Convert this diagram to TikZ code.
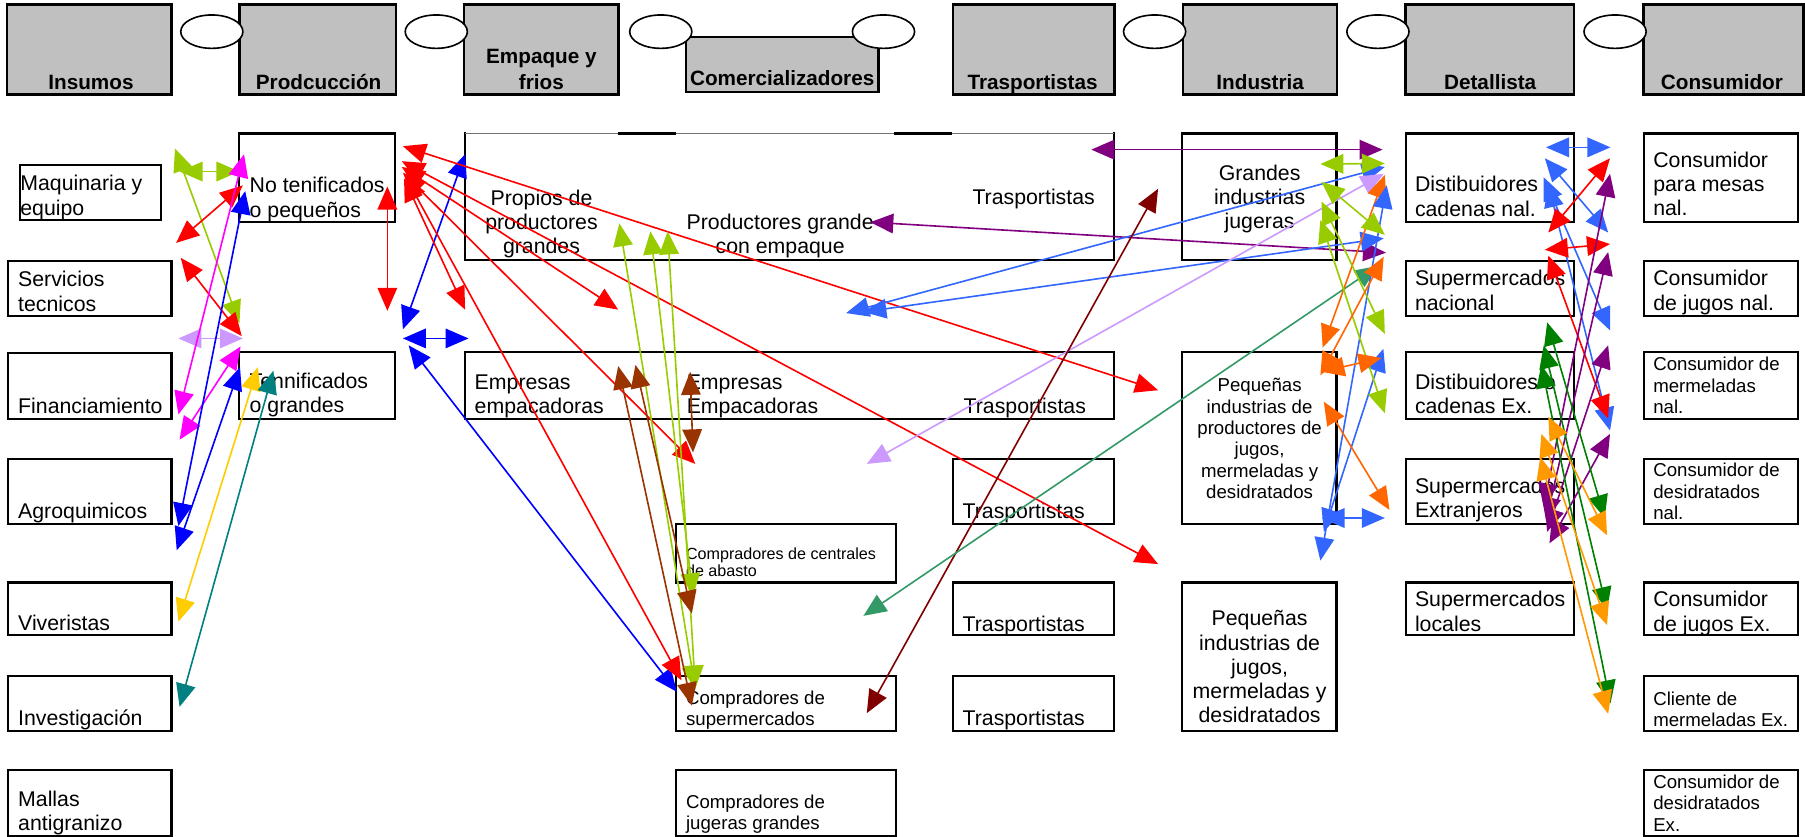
\documentclass[tikz,border=0pt]{standalone}
\usepackage{fontspec}
\setmainfont{Liberation Sans}
\usetikzlibrary{arrows.meta,fit,shapes.geometric}
\definecolor{hdr}{HTML}{C0C0C0}
\definecolor{cLime}{HTML}{99CC00}
\definecolor{cRed}{HTML}{FF0000}
\definecolor{cMag}{HTML}{FF00FF}
\definecolor{cBlue}{HTML}{0000FF}
\definecolor{cGold}{HTML}{FFCC00}
\definecolor{cTeal}{HTML}{008080}
\definecolor{cLav}{HTML}{CC99FF}
\definecolor{cBrown}{HTML}{993300}
\definecolor{cPurp}{HTML}{800080}
\definecolor{cBB}{HTML}{3366FF}
\definecolor{cDRed}{HTML}{800000}
\definecolor{cSea}{HTML}{339966}
\definecolor{cOra}{HTML}{FF6600}
\definecolor{cGreen}{HTML}{008000}
\definecolor{cLOra}{HTML}{FF9900}
\tikzset{
  hbox/.style={draw=black, line width=2.2pt, fill=hdr, inner sep=0pt},
  bbox/.style={draw=black, line width=1.8pt, inner sep=0pt},
  ell/.style={draw=black, line width=1.4pt, fill=white, ellipse, inner sep=0pt, minimum width=54pt, minimum height=29pt},
  htxt/.style={font=\fontsize{18}{22}\bfseries\selectfont, anchor=base, inner sep=0pt},
  bt/.style={font=\fontsize{18.5}{21}\selectfont, inner sep=0pt, align=left, anchor=north west},
  mt/.style={font=\fontsize{16.2}{18.5}\selectfont, inner sep=0pt, align=left, anchor=north west},
  st/.style={font=\fontsize{14}{15}\selectfont, inner sep=0pt, align=left, anchor=north west},
  ctr/.style={align=center, anchor=north},
  lnk/.style={line width=1.4pt, {Triangle[length=20pt,width=17pt]}-{Triangle[length=20pt,width=17pt]}},
}
\newcommand\bx[5]{\node[bbox, fit={(#2,#3) (#4,#5)}] (#1) {};}
\newcommand\hx[5]{\node[hbox, fit={(#2,#3) (#4,#5)}] (#1) {};}
\newcommand\lk[4]{\coordinate (#2a) at #3; \coordinate (#2b) at #4; \draw[lnk,#1] (#2a) -- (#2b);}
\begin{document}
\begin{tikzpicture}[x=1pt,y=-1pt]
\useasboundingbox (0,0) rectangle (1568,727);
% ---------------- header row
\hx{hIns}{6}{4}{149}{82}
\hx{hPro}{208}{4}{344}{82}
\hx{hEmp}{403}{4}{537.5}{82}
\hx{hCom}{596}{32}{763}{80}
\hx{hTra}{828}{4}{968}{82}
\hx{hInd}{1027.5}{4}{1161.4}{82}
\hx{hDet}{1221}{4}{1367.4}{82}
\hx{hCon}{1427.6}{4}{1566.5}{82}
\node[ell] (e1) at (184,27.5) {};
\node[ell] (e2) at (379,27.5) {};
\node[ell] (e3) at (574,27.5) {};
\node[ell] (e4) at (767.5,27.5) {};
\node[ell] (e5) at (1003,27.5) {};
\node[ell] (e6) at (1197,27.5) {};
\node[ell] (e7) at (1403,27.5) {};
\node[htxt] (tIns) at (79,78) {Insumos};
\node[htxt] (tPro) at (276.8,78) {Prodcucción};
\node[htxt] (tEmpA) at (470.3,55) {Empaque y};
\node[htxt] (tEmpB) at (470.3,78) {frios};
\node[htxt] (tCom) at (679.5,74.7) {Comercializadores};
\node[htxt] (tTra) at (897,78) {Trasportistas};
\node[htxt] (tInd) at (1094.7,78) {Industria};
\node[htxt] (tDet) at (1294.5,78) {Detallista};
\node[htxt] (tCon) at (1495.8,78) {Consumidor};
% ---------------- body boxes
\bx{ins1}{17}{143}{140}{191}
\bx{ins2}{7}{227}{149}{274.5}
\bx{ins3}{7}{307}{149}{364}
\bx{ins4}{7}{399}{149}{455}
\bx{ins5}{7}{506}{149}{552}
\bx{ins6}{7}{587}{149}{635}
\bx{ins7}{7}{669}{149}{726}
\bx{pro1}{208}{116}{343}{193}
\bx{pro2}{208}{306}{343}{364}
\bx{emp1}{404}{116}{968}{226}
\draw[white, line width=1.9pt] (405,116) -- (537,116) (587,116) -- (777,116) (827,116) -- (967,116);
\draw[black!55, line width=1pt] (404,116) -- (537,116) (587,116) -- (777,116) (827,116) -- (968,116);
\bx{emp2}{404}{306}{968}{364}
\bx{com1}{587}{455}{778}{506}
\bx{com2}{587}{587}{778}{635}
\bx{com3}{587}{669}{778}{726}
\bx{tra1}{828}{399}{968}{455}
\bx{tra2}{828}{506}{968}{552}
\bx{tra3}{828}{587}{968}{635}
\bx{ind1}{1027}{116}{1161}{226}
\bx{ind2}{1027}{306}{1161}{455}
\bx{ind3}{1027}{506}{1161}{635}
\bx{det1}{1221}{116}{1367.5}{192.6}
\bx{det2}{1221}{227}{1367.5}{274.5}
\bx{det3}{1221}{306}{1367.5}{364}
\bx{det4}{1221}{399}{1367.5}{455}
\bx{det5}{1221}{506}{1367.5}{552}
\bx{con1}{1428}{116}{1562}{192.6}
\bx{con2}{1428}{227}{1562}{274.5}
\bx{con3}{1428}{306}{1562}{364}
\bx{con4}{1428}{399}{1562}{455}
\bx{con5}{1428}{506}{1562}{552}
\bx{con6}{1428}{587}{1562}{635}
\bx{con7}{1428}{669}{1562}{726}
% ---------------- body texts
\node[bt] (x1) at (17.5,150.9) {\strut Maquinaria y\\\strut equipo};
\node[bt] (x2) at (15.6,234.3) {\strut Servicios\\\strut tecnicos};
\node[bt] (x3) at (15.6,344.3) {\strut Financiamiento};
\node[bt] (x4) at (15.6,435.8) {\strut Agroquimicos};
\node[bt] (x5) at (15.6,532.9) {\strut Viveristas};
\node[bt] (x6) at (15.6,615.3) {\strut Investigación};
\node[bt] (x7) at (15.6,685.5) {\strut Mallas\\\strut antigranizo};
\node[bt] (x8) at (216.7,152.7) {\strut No tenificados\\\strut o pequeños};
\node[bt] (x9) at (216.7,322.6) {\strut Tennificados\\\strut o grandes};
\node[bt,ctr] (x10) at (470.4,163.4) {\strut Propios de\\\strut productores\\\strut grandes};
\node[bt,ctr] (x11) at (677.7,184.5) {\strut Productores grande\\\strut con empaque};
\node[bt] (x12) at (844.6,162.5) {\strut Trasportistas};
\node[bt] (x13) at (412.2,323.5) {\strut Empresas\\\strut empacadoras};
\node[bt] (x14) at (596.4,323.5) {\strut Empresas\\\strut Empacadoras};
\node[bt] (x15) at (836.9,344.3) {\strut Trasportistas};
\node[st] (x16) at (595.8,475.4) {\strut Compradores de centrales\\\strut de abasto};
\node[mt] (x17) at (595.8,598.85) {\strut Compradores de\\\strut supermercados};
\node[mt] (x18) at (595.8,689.25) {\strut Compradores de\\\strut jugeras grandes};
\node[bt] (x19) at (836,435.6) {\strut Trasportistas};
\node[bt] (x20) at (836,533.4) {\strut Trasportistas};
\node[bt] (x21) at (836,615.1) {\strut Trasportistas};
\node[bt,ctr] (x22) at (1094.2,141.7) {\strut Grandes\\\strut industrias\\\strut jugeras};
\node[mt,ctr] (x23) at (1094.2,327.25) {\strut Pequeñas\\\strut industrias de\\\strut productores de\\\strut jugos,\\\strut mermeladas y\\\strut desidratados};
\node[bt,ctr] (x24) at (1094.2,528.8) {\strut Pequeñas\\\strut industrias de\\\strut jugos,\\\strut mermeladas y\\\strut desidratados};
\node[bt] (x25) at (1229,151.8) {\strut Distibuidores\\\strut cadenas nal.};
\node[bt] (x26) at (1229,233.4) {\strut Supermercados\\\strut nacional};
\node[bt] (x27) at (1229,323.5) {\strut Distibuidores o\\\strut cadenas Ex.};
\node[bt] (x28) at (1229,413.8) {\strut Supermercados\\\strut Extranjeros};
\node[bt] (x29) at (1229,512.3) {\strut Supermercados\\\strut locales};
\node[bt] (x30) at (1436,130.7) {\strut Consumidor\\\strut para mesas\\\strut nal.};
\node[bt] (x31) at (1436,233.4) {\strut Consumidor\\\strut de jugos nal.};
\node[mt] (x32) at (1436,309.05) {\strut Consumidor de\\\strut mermeladas\\\strut nal.};
\node[mt] (x33) at (1436,401.15) {\strut Consumidor de\\\strut desidratados\\\strut nal.};
\node[bt] (x34) at (1436,512.3) {\strut Consumidor\\\strut de jugos Ex.};
\node[mt] (x35) at (1436,599.45) {\strut Cliente de\\\strut mermeladas Ex.};
\node[mt] (x36) at (1436,671.85) {\strut Consumidor de\\\strut desidratados\\\strut Ex.};
% ---------------- connectors: Insumos - Produccion
\lk{cLime}{a1}{(156,149)}{(208,149)}
\lk{cLime}{a2}{(152,129)}{(208,281)}
\lk{cRed}{a3}{(153,211)}{(211,161)}
\lk{cRed}{a4}{(157,224)}{(210,292)}
\lk{cLav}{a5}{(155,294)}{(211,294)}
\lk{cMag}{a6}{(155,360)}{(212,134)}
\lk{cMag}{a7}{(156,382)}{(209,301)}
\lk{cBlue}{a8}{(155,457)}{(213,166)}
\lk{cBlue}{a9}{(153.5,478)}{(208.5,319)}
\lk{cGold}{a10}{(155,540)}{(224,319)}
\lk{cTeal}{a11}{(156,614)}{(237.5,322)}
% ---------------- Produccion - right
\lk{cRed}{b1}{(336.5,162)}{(336.5,270)}
\lk{cBlue}{b2}{(404,134)}{(350,286)}
\lk{cBlue}{b3}{(350,294)}{(407,294)}
\lk{cBlue}{b4}{(355,300)}{(588,601)}
\lk{cRed}{b5}{(350,127)}{(1006,339)}
\lk{cRed}{b6}{(349,140)}{(1006,490)}
\lk{cRed}{b7}{(349,145)}{(537,269)}
\lk{cRed}{b8}{(350,150)}{(604,403)}
\lk{cRed}{b9}{(351,155)}{(404,269)}
\lk{cRed}{b10}{(352,153)}{(592,591)}
% ---------------- centre
\lk{cLime}{c1}{(538,194)}{(604,599)}
\lk{cLime}{c2}{(565,201)}{(602,518)}
\lk{cLime}{c3}{(580,201)}{(604,598)}
\lk{cBrown}{c4}{(537,318)}{(601,613)}
\lk{cBrown}{c5}{(552,317)}{(601,533)}
\lk{cBrown}{c6}{(599.5,323)}{(602,393)}
\lk{cPurp}{c7}{(948,130)}{(1201,130)}
\lk{cPurp}{c8}{(756,193)}{(1204,219.5)}
\lk{cBB}{c9}{(735,272)}{(1203,145)}
\lk{cBB}{c10}{(750,271)}{(1202,207)}
\lk{cLav}{c11}{(753,403)}{(1202,151)}
\lk{cDRed}{c12}{(753,619.5)}{(1006,164)}
\lk{cSea}{c13}{(750,535)}{(1197,231)}
% ---------------- Industria - Detallista
\lk{cLime}{d1}{(1147,142.5)}{(1203,142)}
\lk{cOra}{d2}{(1203,152)}{(1149,302)}
\lk{cBB}{d3}{(1204.6,161)}{(1147,487)}
\lk{cBB}{d4}{(1201.7,303)}{(1150,462)}
\lk{cBB}{d5}{(1148,450)}{(1203,450)}
\lk{cLime}{d6}{(1148,158)}{(1203,204)}
\lk{cLime}{d7}{(1148,175)}{(1203,290)}
\lk{cLime}{d8}{(1147,191)}{(1203,359)}
\lk{cOra}{d9}{(1202,223)}{(1147,326)}
\lk{cOra}{d10}{(1148,323)}{(1200,311)}
\lk{cOra}{d11}{(1150,349)}{(1207,443)}
% ---------------- Detallista - Consumidor
\lk{cBB}{f1}{(1343,128)}{(1399,128)}
\lk{cBB}{f2}{(1342,137.5)}{(1397,202)}
\lk{cBB}{f3}{(1341,154)}{(1398.6,287)}
\lk{cBB}{f4}{(1345,160)}{(1398.6,374)}
\lk{cRed}{f5}{(1345,202)}{(1398.6,137.5)}
\lk{cRed}{f6}{(1342,217)}{(1398.6,212)}
\lk{cRed}{f7}{(1345,222)}{(1397,363.5)}
\lk{cPurp}{f8}{(1398.6,151)}{(1341,440)}
\lk{cPurp}{f9}{(1397,219)}{(1343,452)}
\lk{cPurp}{f10}{(1397,300)}{(1344,462)}
\lk{cPurp}{f11}{(1398.6,377)}{(1346,472)}
\lk{cGreen}{f12}{(1344,280)}{(1394,450)}
\lk{cGreen}{f13}{(1341,300)}{(1396,530)}
\lk{cGreen}{f14}{(1339,317)}{(1399,611)}
\lk{cLOra}{f15}{(1345,362)}{(1396,465)}
\lk{cLOra}{f16}{(1339,377)}{(1396,543)}
\lk{cLOra}{f17}{(1338,397)}{(1397,620)}
\end{tikzpicture}
\end{document}
